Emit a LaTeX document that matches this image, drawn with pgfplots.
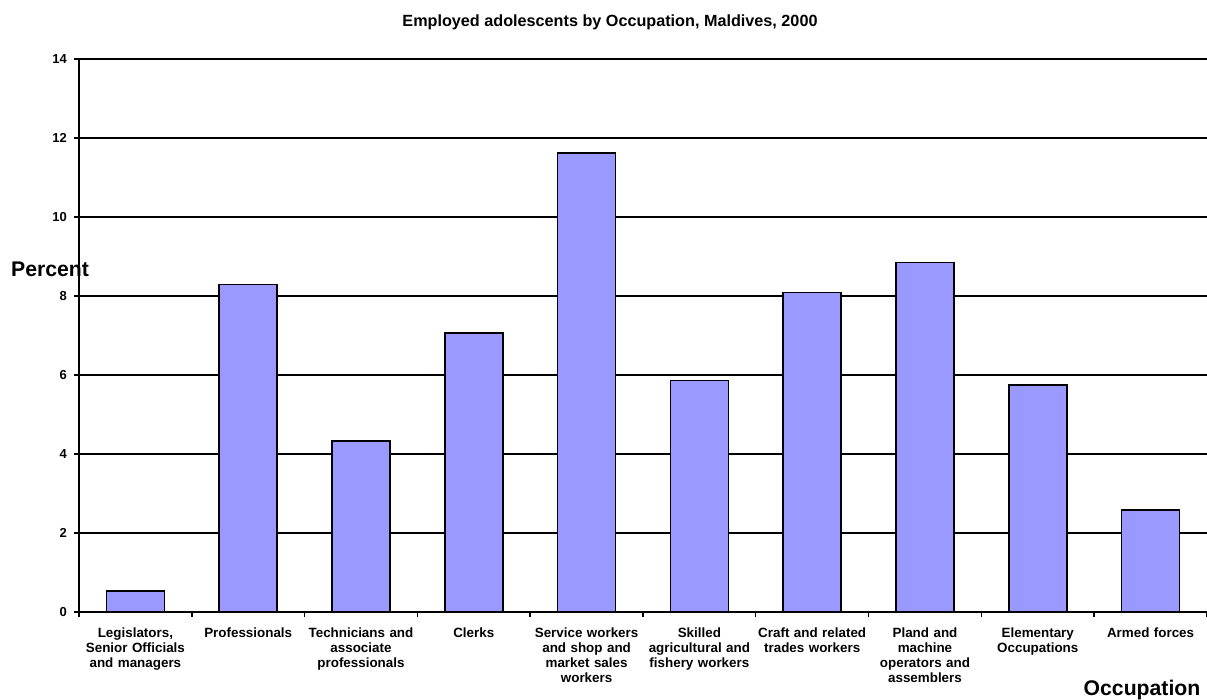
\documentclass[border=0pt]{standalone}
\usepackage{pgfplots}
\pgfplotsset{compat=1.18}
\usepackage{fontspec}
\setmainfont{Liberation Sans}
\definecolor{barfill}{HTML}{9999FF}
\begin{document}
\begin{tikzpicture}
\useasboundingbox (-39.5pt,-44pt) rectangle (564pt,306pt);
\begin{axis}[
  at={(0pt,0pt)}, anchor=south west,
  scale only axis,
  width=564pt, height=276.5pt,
  xmin=-0.5, xmax=9.5,
  ymin=0, ymax=14,
  ytick={0,2,...,14},
  xtick={0,...,9},
  xticklabels={
    {Legislators,\\Senior Officials\\and managers},
    {Professionals},
    {Technicians and\\associate\\professionals},
    {Clerks},
    {Service workers\\and shop and\\market sales\\workers},
    {Skilled\\agricultural and\\fishery workers},
    {Craft and related\\trades workers},
    {Pland and\\machine\\operators and\\assemblers},
    {Elementary\\Occupations},
    {Armed forces}},
  x tick label style={font=\bfseries\fontsize{6.7}{7.5}\selectfont, align=center, text width=60pt, anchor=north, yshift=-2pt},
  y tick label style={font=\bfseries\fontsize{6.5}{7.5}\selectfont},
  /pgf/number format/assume math mode=true,
  major x tick style={draw=none},
  minor xtick={-0.5,0.5,...,9.5},
  minor tick length=2.5pt,
  major tick length=2.5pt,
  tick align=outside,
  axis x line*=bottom,
  axis y line*=left,
  axis line style={line width=0.9pt},
  tick style={line width=0.7pt, black},
  ymajorgrids,
  major grid style={line width=0.9pt, black},
  ybar, bar width=29pt,
  clip=false,
]
\addplot[fill=barfill, draw=black, line width=0.8pt] coordinates {
(0,0.53) (1,8.29) (2,4.33) (3,7.07) (4,11.62) (5,5.86) (6,8.09) (7,8.85) (8,5.75) (9,2.58)};
\end{axis}
\node[font=\bfseries\fontsize{8.1}{9}\selectfont] at (265.5pt,295pt) {Employed adolescents by Occupation, Maldives, 2000};
\node[font=\bfseries\fontsize{10.6}{12}\selectfont] at (-14.5pt,171.5pt) {Percent};
\node[font=\bfseries\fontsize{10.6}{12}\selectfont] at (531.5pt,-39pt) {Occupation};
\end{tikzpicture}
\end{document}
